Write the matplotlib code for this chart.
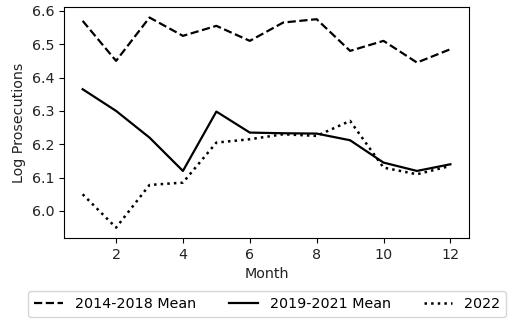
import numpy as np
import matplotlib
matplotlib.use("Agg")
import matplotlib.pyplot as plt

# monthly log prosecutions
months = np.arange(1, 13)
mean_2014_2018 = [6.57, 6.45, 6.58, 6.525, 6.555, 6.51, 6.565, 6.575, 6.48, 6.51, 6.445, 6.485]
mean_2019_2021 = [6.365, 6.30, 6.22, 6.12, 6.298, 6.235, 6.233, 6.232, 6.212, 6.145, 6.12, 6.14]
year_2022 = [6.05, 5.95, 6.078, 6.085, 6.205, 6.215, 6.23, 6.225, 6.27, 6.13, 6.11, 6.135]

plt.rcParams['font.size'] = 10.3

fig = plt.figure(figsize=(5.14, 3.34), dpi=100)
ax = fig.add_axes([0.125, 0.287, 0.787, 0.692])

ax.plot(months, mean_2014_2018, 'k--', lw=1.6, label='2014-2018 Mean')
ax.plot(months, mean_2019_2021, 'k-', lw=1.6, label='2019-2021 Mean')
ax.plot(months, year_2022, 'k:', lw=1.8, label='2022')

ax.set_xlabel('Month', color='#222222')
ax.set_ylabel('Log Prosecutions', color='#222222')
ax.set_xticks([2, 4, 6, 8, 10, 12])
ax.set_yticks([6.0, 6.1, 6.2, 6.3, 6.4, 6.5, 6.6])
ax.tick_params(labelcolor='#222222')

fig.legend(loc='center', bbox_to_anchor=(0.52, 0.09), ncol=3, columnspacing=2.3,
           handletextpad=0.85)

fig.savefig('out.png', dpi=100)
